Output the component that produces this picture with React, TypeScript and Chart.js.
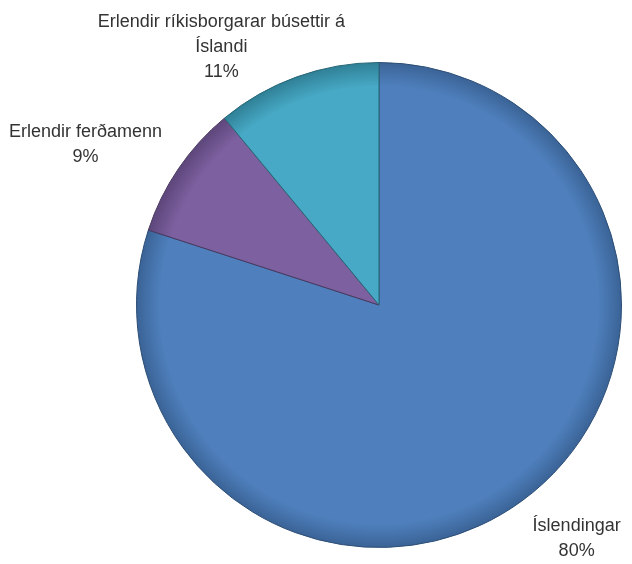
import React, { useEffect, useRef } from "react";
import { Chart, registerables } from "chart.js";

Chart.register(...registerables);

const categories = [
  "Íslendingar",
  "Erlendir ferðamenn",
  "Erlendir ríkisborgarar búsettir á Íslandi",
];
const labelLines = [
  ["Íslendingar"],
  ["Erlendir ferðamenn"],
  ["Erlendir ríkisborgarar búsettir á", "Íslandi"],
];
const values = [80, 9, 11];
const colors = ["#4f80bd", "#7d60a0", "#47a9c5"];
const edgeColors = ["#3a6396", "#5c467a", "#2f7f95"];
const borderColors = ["#2c4d75", "#4a385f", "#266676"];
// label centre offsets in units of pie radius
const labelOffsets = [
  [0.815, 0.963],
  [-1.21, -0.66],
  [-0.65, -1.062],
];

export default function App() {
  const ref = useRef<HTMLCanvasElement>(null);
  useEffect(() => {
    const canvas = ref.current!;
    const labelPlugin = {
      id: "outsideLabels",
      afterDatasetsDraw(chart: any) {
        const ctx = chart.ctx;
        const meta = chart.getDatasetMeta(0);
        const total = values.reduce((a, b) => a + b, 0);
        ctx.save();
        ctx.font = "18px 'Liberation Sans', Arial, sans-serif";
        ctx.fillStyle = "#333333";
        ctx.textAlign = "center";
        ctx.textBaseline = "middle";
        meta.data.forEach((arc: any, i: number) => {
          const r = arc.outerRadius;
          const cx = arc.x + labelOffsets[i][0] * r;
          const cy = arc.y + labelOffsets[i][1] * r;
          const lines = [...labelLines[i], Math.round((values[i] / total) * 100) + "%"];
          const lh = 25;
          const start = cy - ((lines.length - 1) * lh) / 2;
          lines.forEach((t, k) => ctx.fillText(t, cx, start + k * lh));
        });
        ctx.restore();
      },
    };
    const chart = new Chart(canvas, {
      type: "pie",
      data: {
        labels: categories,
        datasets: [
          {
            data: values,
            backgroundColor: (c: any) => {
              const ch = c.chart;
              const area = ch.chartArea;
              if (!area) return colors[c.dataIndex];
              const cx = (area.left + area.right) / 2;
              const cy = (area.top + area.bottom) / 2;
              const r = Math.min(area.right - area.left, area.bottom - area.top) / 2;
              const g = ch.ctx.createRadialGradient(cx, cy, 0, cx, cy, r);
              g.addColorStop(0, colors[c.dataIndex]);
              g.addColorStop(0.9, colors[c.dataIndex]);
              g.addColorStop(1, edgeColors[c.dataIndex]);
              return g;
            },
            borderColor: borderColors,
            borderWidth: 1,
            hoverOffset: 0,
            offset: 0,
          },
        ],
      },
      options: {
        responsive: false,
        animation: false,
        layout: { padding: { left: 136, right: 10, top: 62, bottom: 16 } },
        plugins: {
          legend: { display: false },
          tooltip: { enabled: false },
        },
      },
      plugins: [labelPlugin],
    });
    return () => chart.destroy();
  }, []);
  return (
    <div style={{ position: "fixed", left: 0, top: 0, width: 632, height: 564, background: "#fff" }}>
      <canvas ref={ref} width={632} height={564} style={{ width: 632, height: 564 }} />
    </div>
  );
}
